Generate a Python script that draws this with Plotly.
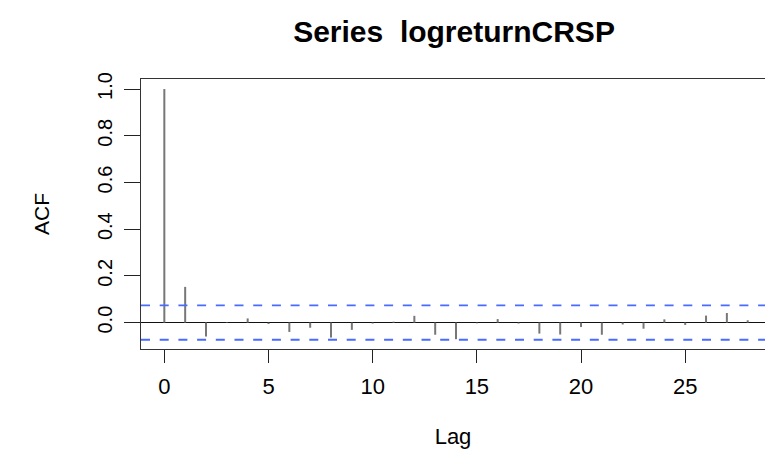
import plotly.graph_objects as go

# ---- data ----
lags = list(range(0, 29))
acf_values = [1.000, 0.153, -0.059, 0.002, 0.018, -0.006, -0.040, -0.022,
              -0.064, -0.031, -0.004, 0.004, 0.029, -0.052, -0.071, -0.003,
              0.015, -0.004, -0.047, -0.051, -0.019, -0.052, -0.008, -0.026,
              0.014, -0.010, 0.030, 0.041, 0.010]
conf_limit = 0.0735
x_tick_vals = [0, 5, 10, 15, 20, 25]
y_tick_vals = [0.0, 0.2, 0.4, 0.6, 0.8, 1.0]
y_tick_text = ["0.0", "0.2", "0.4", "0.6", "0.8", "1.0"]
title_text = "Series\u00a0\u00a0logreturnCRSP"

FONT = "Liberation Sans, Arial, Helvetica, sans-serif"

xs, ys = [], []
for k, v in zip(lags, acf_values):
    xs += [k, k, None]
    ys += [0, v, None]

fig = go.Figure()
fig.add_trace(go.Scatter(x=xs, y=ys, mode="lines",
                         line=dict(color="#777777", width=2),
                         hoverinfo="skip", showlegend=False))

for yv in (conf_limit, -conf_limit):
    fig.add_shape(type="line", xref="paper", x0=0, x1=1, yref="y", y0=yv, y1=yv,
                  line=dict(color="#4a6bff", width=1.8, dash="9px,9.7px"))

fig.update_layout(
    width=765, height=450,
    margin=dict(l=141, r=0, t=79, b=101),
    paper_bgcolor="white", plot_bgcolor="white",
    font=dict(family=FONT, color="black"),
    title=dict(text="<b>" + title_text + "</b>", x=0.5935, xanchor="center",
               y=1 - 31 / 450, yanchor="middle",
               font=dict(size=30, family=FONT, color="black")),
    showlegend=False,
)
fig.update_xaxes(
    range=[-1.12, 28.83], tickmode="array", tickvals=x_tick_vals,
    ticks="outside", ticklen=13, tickwidth=1, tickcolor="#222",
    showline=True, linecolor="#333", linewidth=1, mirror=True,
    showgrid=False, zeroline=False,
    tickfont=dict(size=22, family=FONT), ticklabelstandoff=5,
    title=dict(text="Lag", font=dict(size=22, family=FONT), standoff=30),
)
fig.update_yaxes(
    range=[-0.113, 1.043], tickmode="array", tickvals=y_tick_vals,
    ticktext=y_tick_text, tickangle=-90,
    ticks="outside", ticklen=16, tickwidth=1, tickcolor="#222",
    showline=True, linecolor="#333", linewidth=1, mirror=False,
    showgrid=False, zeroline=True, zerolinecolor="#111", zerolinewidth=1,
    tickfont=dict(size=20, family=FONT), ticklabelstandoff=4,
    title=dict(text="ACF", font=dict(size=21, family=FONT), standoff=38),
)

fig.write_html("out.html")
